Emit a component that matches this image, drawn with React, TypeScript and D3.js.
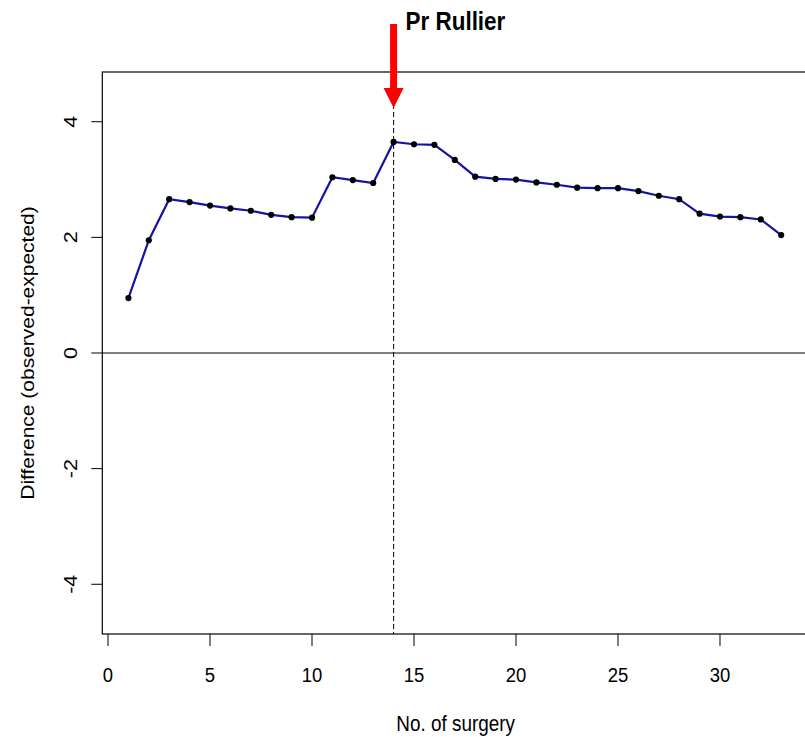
import React, { useEffect, useRef } from "react";
import * as d3 from "d3";

// surgery index and cumulative difference (observed - expected)
const surgeryNo = [1, 2, 3, 4, 5, 6, 7, 8, 9, 10, 11, 12, 13, 14, 15, 16, 17, 18, 19, 20, 21, 22, 23, 24, 25, 26, 27, 28, 29, 30, 31, 32, 33];
const difference = [0.95, 1.95, 2.66, 2.61, 2.55, 2.5, 2.46, 2.39, 2.35, 2.34, 3.04, 2.99, 2.94, 3.65, 3.61, 3.6, 3.34, 3.05, 3.01, 3.0, 2.95, 2.91, 2.86, 2.85, 2.85, 2.8, 2.72, 2.66, 2.41, 2.36, 2.35, 2.31, 2.04];
const xTicks = [0, 5, 10, 15, 20, 25, 30];
const yTicks = [-4, -2, 0, 2, 4];
const markerAt = 14;
const markerLabel = "Pr Rullier";
const xLabel = "No. of surgery";
const yLabel = "Difference (observed-expected)";

const FONT = "'Liberation Sans', Arial, sans-serif";
const SQ = 0.88; // horizontal squeeze of the text in the original picture

export default function App() {
  const ref = useRef<SVGSVGElement>(null);

  useEffect(() => {
    const width = 805;
    const height = 737;
    const svg = d3.select(ref.current);
    svg.selectAll("*").remove();

    const x = d3.scaleLinear().domain([-0.28, 34.28]).range([102.3, 807.3]);
    const y = d3.scaleLinear().domain([-4.86, 4.86]).range([634, 72]);

    // box
    svg.append("rect")
      .attr("x", x(-0.28)).attr("y", y(4.86))
      .attr("width", x(34.28) - x(-0.28)).attr("height", y(-4.86) - y(4.86))
      .attr("fill", "none").attr("stroke", "#000").attr("stroke-width", 1.2);

    // x axis
    const xa = svg.append("g");
    xa.selectAll("line").data(xTicks).enter().append("line")
      .attr("x1", d => x(d)).attr("x2", d => x(d))
      .attr("y1", y(-4.86)).attr("y2", y(-4.86) + 12)
      .attr("stroke", "#000").attr("stroke-width", 1);
    xa.selectAll("text").data(xTicks).enter().append("text")
      .attr("transform", d => `translate(${x(d)},682) scale(${SQ},1)`)
      .attr("text-anchor", "middle")
      .style("font-family", FONT).style("font-size", "21px")
      .text(d => d);

    // y axis
    const ya = svg.append("g");
    ya.selectAll("line").data(yTicks).enter().append("line")
      .attr("x1", x(-0.28) - 11).attr("x2", x(-0.28))
      .attr("y1", d => y(d)).attr("y2", d => y(d))
      .attr("stroke", "#000").attr("stroke-width", 1);
    ya.selectAll("text").data(yTicks).enter().append("text")
      .attr("transform", d => `translate(77,${y(d)}) scale(${SQ},1) rotate(-90)`)
      .attr("text-anchor", "middle")
      .style("font-family", FONT).style("font-size", "21.5px")
      .text(d => d);

    // axis titles
    svg.append("text")
      .attr("transform", `translate(${(x(-0.28) + 805) / 2 + 2},731) scale(${SQ},1)`)
      .attr("text-anchor", "middle")
      .style("font-family", FONT).style("font-size", "21.5px")
      .text(xLabel);
    svg.append("text")
      .attr("transform", `translate(34,${y(0)}) scale(${SQ},1) rotate(-90)`)
      .attr("text-anchor", "middle")
      .style("font-family", FONT).style("font-size", "21px")
      .text(yLabel);

    // reference lines
    svg.append("line")
      .attr("x1", x(-0.28)).attr("x2", x(34.28))
      .attr("y1", y(0)).attr("y2", y(0))
      .attr("stroke", "#000").attr("stroke-width", 1.2);
    svg.append("line")
      .attr("x1", x(markerAt)).attr("x2", x(markerAt))
      .attr("y1", y(4.86)).attr("y2", y(-4.86))
      .attr("stroke", "#000").attr("stroke-width", 1)
      .attr("stroke-dasharray", "5,3");

    // series
    const pts = surgeryNo.map((s, i) => [s, difference[i]] as [number, number]);
    const line = d3.line<[number, number]>().x(d => x(d[0])).y(d => y(d[1]));
    svg.append("path")
      .attr("d", line(pts))
      .attr("fill", "none").attr("stroke", "#1414a0").attr("stroke-width", 2.2);
    svg.selectAll("circle.pt").data(pts).enter().append("circle")
      .attr("class", "pt")
      .attr("cx", d => x(d[0])).attr("cy", d => y(d[1]))
      .attr("r", 3.1).attr("fill", "#000");

    // arrow annotation
    const ax = x(markerAt);
    const tip = 108;
    svg.append("path")
      .attr("d", `M${ax - 3.5},24 L${ax + 3.5},24 L${ax + 3.5},${tip - 20} L${ax + 10},${tip - 20} L${ax},${tip} L${ax - 10},${tip - 20} L${ax - 3.5},${tip - 20} Z`)
      .attr("fill", "#ff0000");
    svg.append("text")
      .attr("transform", `translate(${ax + 12},30) scale(${SQ},1)`)
      .style("font-family", FONT).style("font-size", "25.5px").style("font-weight", "bold")
      .text(markerLabel);

    svg.attr("width", width).attr("height", height);
  }, []);

  return (
    <svg ref={ref} width={805} height={737}
      style={{ position: "absolute", left: 0, top: 0, display: "block", background: "#fff" }} />
  );
}
